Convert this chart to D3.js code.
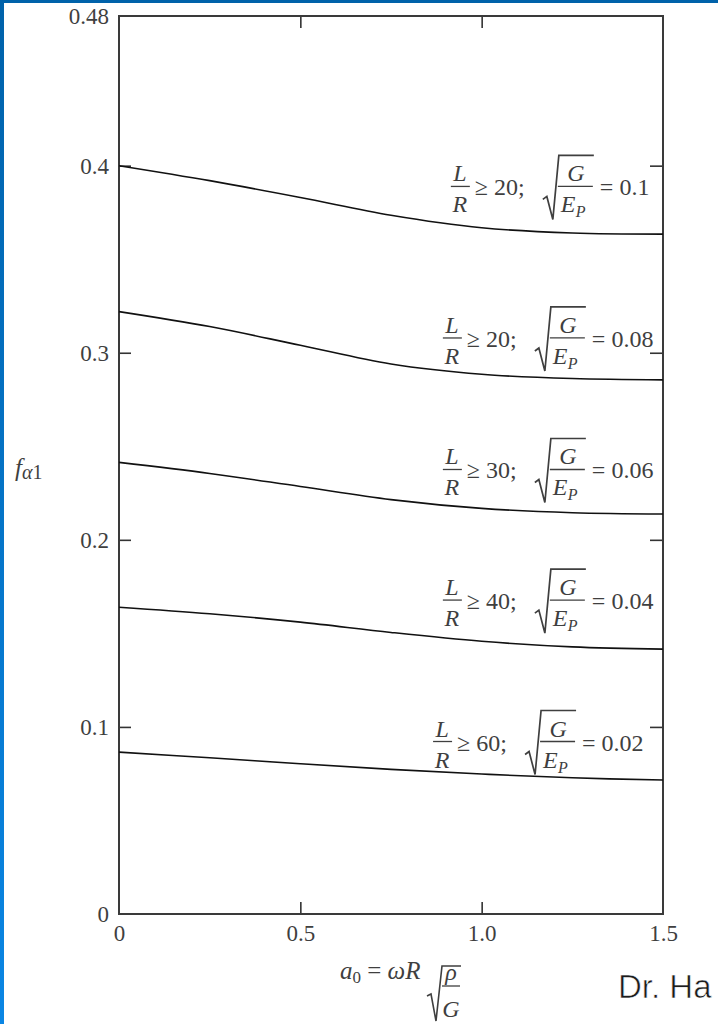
<!DOCTYPE html>
<html>
<head>
<meta charset="utf-8">
<script src="https://cdn.jsdelivr.net/npm/d3@7"></script>
<style>
  html, body { margin: 0; padding: 0; background: #fff; }
  svg { display: block; }
  .serif { font-family: "Liberation Serif", "Times New Roman", serif; fill: #3f3f3f; }
</style>
</head>
<body>
<svg id="chart" width="718" height="1024"></svg>
<script>
// Dimensionless frequency a0 sampled along the x axis
const a0Values = [0, 0.25, 0.5, 0.75, 1.0, 1.25, 1.5];

// f_alpha1 for each stiffness ratio sqrt(G/E_P)
const seriesG002 = [0.0865, 0.0835, 0.0803, 0.0773, 0.0748, 0.0728, 0.0716];
const seriesG004 = [0.1640, 0.1605, 0.1560, 0.1505, 0.1458, 0.1428, 0.1416];
const seriesG006 = [0.2414, 0.2355, 0.2285, 0.2215, 0.2168, 0.2145, 0.2138];
const seriesG008 = [0.3220, 0.3140, 0.3040, 0.2940, 0.2885, 0.2862, 0.2855];
const seriesG010 = [0.4000, 0.3920, 0.3830, 0.3735, 0.3668, 0.3640, 0.3634];

// Curve captions: L/R limit and sqrt(G/E_P) value
const ratioLR = ["60", "40", "30", "20", "20"];
const ratioG = ["0.02", "0.04", "0.06", "0.08", "0.1"];

// Axis tick labels
const xTickValues = [0, 0.5, 1.0, 1.5];
const xTickLabels = ["0", "0.5", "1.0", "1.5"];
const yTickValues = [0, 0.1, 0.2, 0.3, 0.4, 0.48];
const yTickLabels = ["0", "0.1", "0.2", "0.3", "0.4", "0.48"];

const allSeries = [seriesG002, seriesG004, seriesG006, seriesG008, seriesG010];

const svg = d3.select("#chart");
const W = 718, H = 1024;
const ink = "#3f3f3f";

// Slide-style blue edge along the left and top
const defs = svg.append("defs");
const grad = defs.append("linearGradient").attr("id", "edgeBlue")
  .attr("x1", 0).attr("y1", 0).attr("x2", 0).attr("y2", 1);
grad.append("stop").attr("offset", "0%").attr("stop-color", "#0062aa");
grad.append("stop").attr("offset", "100%").attr("stop-color", "#0a86e4");
svg.append("rect").attr("x", 0).attr("y", 0).attr("width", 4).attr("height", H).attr("fill", "url(#edgeBlue)");
svg.append("rect").attr("x", 0).attr("y", 0).attr("width", W).attr("height", 3).attr("fill", "#0062aa");

const x = d3.scaleLinear().domain([0, 1.5]).range([119, 663]);
const y = d3.scaleLinear().domain([0, 0.48]).range([914, 16]);

const tickFont = 23;

// Left axis (ticks pointing inward)
const gLeft = svg.append("g").attr("transform", `translate(${x(0)},0)`)
  .call(d3.axisLeft(y).tickValues(yTickValues)
    .tickFormat((d, i) => yTickLabels[i])
    .tickSizeInner(-12).tickSizeOuter(0).tickPadding(10));
// Bottom axis
const gBottom = svg.append("g").attr("transform", `translate(0,${y(0)})`)
  .call(d3.axisBottom(x).tickValues(xTickValues)
    .tickFormat((d, i) => xTickLabels[i])
    .tickSizeInner(-12).tickSizeOuter(0).tickPadding(11));
// Right and top axes: inward ticks only
const gRight = svg.append("g").attr("transform", `translate(${x(1.5)},0)`)
  .call(d3.axisRight(y).tickValues([0.1, 0.2, 0.3, 0.4])
    .tickFormat("").tickSizeInner(-13).tickSizeOuter(0));
const gTop = svg.append("g").attr("transform", `translate(0,${y(0.48)})`)
  .call(d3.axisTop(x).tickValues([0.5, 1.0])
    .tickFormat("").tickSizeInner(-12).tickSizeOuter(0));

[gLeft, gBottom, gRight, gTop].forEach(g => {
  g.select(".domain").remove();
  g.selectAll(".tick line").attr("stroke", "#333").attr("stroke-width", 1.6);
  g.selectAll(".tick line").filter(d => d === 0 || d === 0.48 || d === 1.5).remove();
  g.selectAll(".tick text")
    .attr("class", "serif")
    .style("font-size", tickFont + "px")
    .attr("fill", ink);
});

// Plot frame
svg.append("rect")
  .attr("x", x(0)).attr("y", y(0.48))
  .attr("width", x(1.5) - x(0)).attr("height", y(0) - y(0.48))
  .attr("fill", "none").attr("stroke", "#3a3a3a").attr("stroke-width", 2);

// Curves
const line = d3.line()
  .x((d, i) => x(a0Values[i]))
  .y(d => y(d))
  .curve(d3.curveCatmullRom.alpha(0.5));

svg.append("g").selectAll("path")
  .data(allSeries)
  .join("path")
  .attr("d", line)
  .attr("fill", "none")
  .attr("stroke", "#111")
  .attr("stroke-width", 1.6);

// Caption anchors (in data units): left edge of L/R, fraction-bar height
const captionAt = [
  { a: 0.866, f: 0.0922 },
  { a: 0.893, f: 0.1678 },
  { a: 0.893, f: 0.2376 },
  { a: 0.893, f: 0.3079 },
  { a: 0.915, f: 0.3889 }
];

const capFont = 24;
function caption(g, lr, gv) {
  const t = (txt, dx, dy, opts = {}) => g.append("text")
    .attr("class", "serif")
    .attr("x", dx).attr("y", dy)
    .attr("text-anchor", opts.anchor || "start")
    .style("font-size", (opts.size || capFont) + "px")
    .style("font-style", opts.italic ? "italic" : "normal")
    .text(txt);
  // L / R
  t("L", 9, -5, { italic: true, anchor: "middle" });
  g.append("line").attr("x1", 0).attr("x2", 19).attr("y1", 0).attr("y2", 0)
    .attr("stroke", ink).attr("stroke-width", 1.3);
  t("R", 9, 26, { italic: true, anchor: "middle" });
  // ≥ value;
  t("\u2265 " + lr + ";", 24, 9);
  // radical sign over G / E_P
  g.append("path")
    .attr("d", "M92,13 L96,10 L102,33 L108,-31 L143,-31")
    .attr("fill", "none").attr("stroke", ink).attr("stroke-width", 1.7)
    .attr("stroke-linejoin", "miter");
  t("G", 125, -5, { italic: true, anchor: "middle" });
  g.append("line").attr("x1", 107).attr("x2", 142).attr("y1", 0).attr("y2", 0)
    .attr("stroke", ink).attr("stroke-width", 1.3);
  t("E", 110, 26, { italic: true });
  t("P", 125, 31, { italic: true, size: 16 });
  // = value
  t("= " + gv, 149, 9);
}

captionAt.forEach((c, i) => {
  const g = svg.append("g").attr("transform", `translate(${x(c.a)},${y(c.f)})`);
  caption(g, ratioLR[i], ratioG[i]);
});

// Y axis title: f_alpha1
const yTitle = svg.append("text").attr("class", "serif")
  .attr("x", 15).attr("y", 476)
  .style("font-size", "25px");
yTitle.append("tspan").style("font-style", "italic").text("f");
yTitle.append("tspan").attr("dy", 3).style("font-size", "20px").style("font-style", "italic").text("\u03b1");
yTitle.append("tspan").style("font-size", "20px").text("1");

// X axis title: a0 = ωR sqrt(ρ/G)
const xg = svg.append("g").attr("transform", "translate(340,984)");
const xt = xg.append("text").attr("class", "serif").attr("x", 0).attr("y", -5)
  .style("font-size", "25px");
xt.append("tspan").style("font-style", "italic").text("a");
xt.append("tspan").attr("dy", 4).style("font-size", "17px").text("0");
xt.append("tspan").attr("dy", -4).text(" = ");
xt.append("tspan").style("font-style", "italic").text("\u03c9R");
xg.append("path")
  .attr("d", "M87,12 L91,10 L96,37 L102,-18 L121,-18")
  .attr("fill", "none").attr("stroke", ink).attr("stroke-width", 1.6);
xg.append("text").attr("class", "serif").attr("x", 111).attr("y", -4)
  .attr("text-anchor", "middle").style("font-size", "24px").style("font-style", "italic").text("\u03c1");
xg.append("line").attr("x1", 102).attr("x2", 120).attr("y1", 2).attr("y2", 2)
  .attr("stroke", ink).attr("stroke-width", 1.3);
xg.append("text").attr("class", "serif").attr("x", 111).attr("y", 33)
  .attr("text-anchor", "middle").style("font-size", "24px").style("font-style", "italic").text("G");

// Presenter credit in the lower right corner
svg.append("text")
  .attr("x", 618).attr("y", 998)
  .style("font-family", "'Liberation Sans', Arial, sans-serif")
  .style("font-size", "33px")
  .attr("fill", "#1c1c1c")
  .attr("stroke", "#ffffff").attr("stroke-width", 0.6)
  .text("Dr. Ha");
</script>
</body>
</html>
